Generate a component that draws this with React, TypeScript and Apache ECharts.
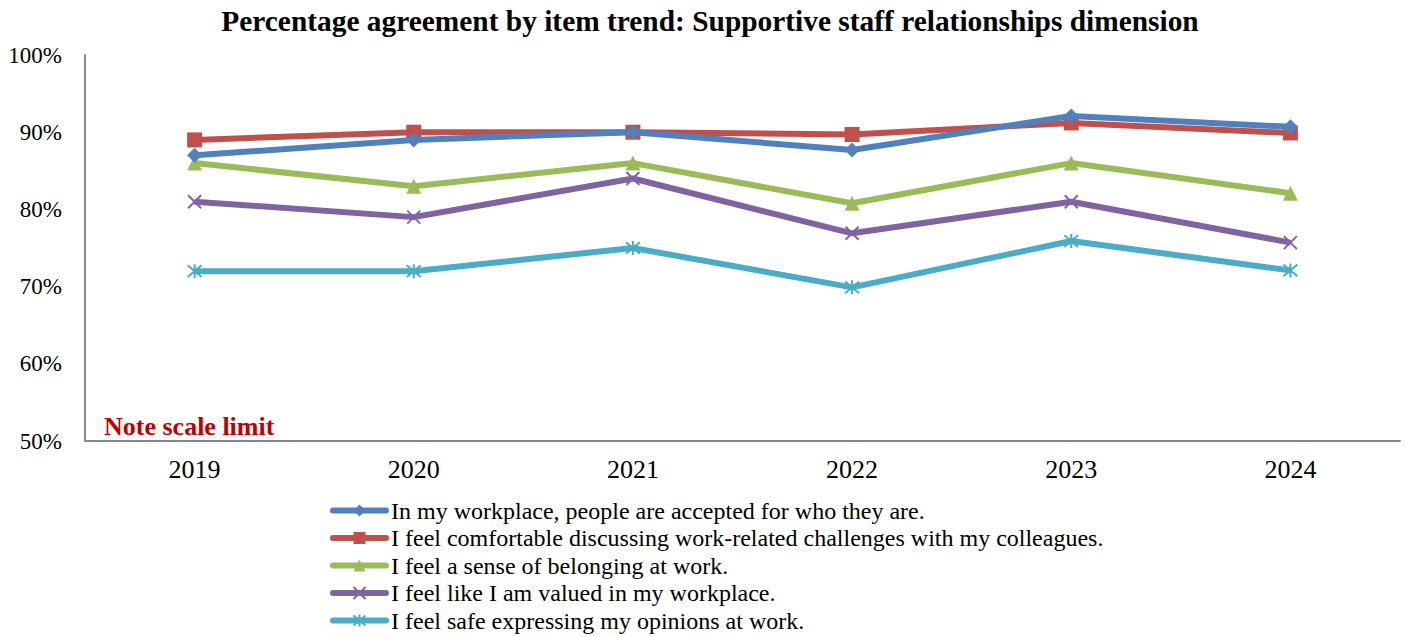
import React, { useEffect, useRef } from "react";
import * as echarts from "echarts";

const years = ["2019", "2020", "2021", "2022", "2023", "2024"];
const seriesNames = [
  "In my workplace, people are accepted for who they are.",
  "I feel comfortable discussing work-related challenges with my colleagues.",
  "I feel a sense of belonging at work.",
  "I feel like I am valued in my workplace.",
  "I feel safe expressing my opinions at work.",
];
const accepted = [87.0, 89.0, 90.0, 87.7, 92.1, 90.7];
const comfortable = [89.0, 90.0, 90.0, 89.7, 91.2, 89.9];
const belonging = [86.0, 83.0, 86.0, 80.8, 86.0, 82.1];
const valued = [81.0, 79.0, 84.0, 76.9, 81.0, 75.7];
const safe = [72.0, 72.0, 75.0, 69.9, 75.9, 72.1];
const yTicks = { min: 50, max: 100, interval: 10 };

const colors = ["#4F81BD", "#C0504D", "#9BBB59", "#8064A2", "#4BACC6"];
const FONT = "'Liberation Serif', 'Times New Roman', serif";

const X_SYMBOL = "path://M0,0 L10,10 M10,0 L0,10";
const STAR_SYMBOL = "path://M0,0 L10,10 M10,0 L0,10 M5,-1 L5,11";

export default function App() {
  const ref = useRef<HTMLDivElement>(null);
  useEffect(() => {
    if (!ref.current) return;
    const chart = echarts.init(ref.current, null, { renderer: "svg" });
    const data = [accepted, comfortable, belonging, valued, safe];
    const symbols = ["diamond", "rect", "triangle", X_SYMBOL, STAR_SYMBOL];
    const sizes = [15, 15, 15, 13, 14];
    chart.setOption({
      animation: false,
      color: colors,
      title: {
        text: "Percentage agreement by item trend: Supportive staff relationships dimension",
        left: 710,
        textAlign: "center",
        top: 6,
        padding: 0,
        textStyle: { fontFamily: FONT, fontSize: 29.4, fontWeight: "bold", color: "#000" },
      },
      grid: { left: 85, right: 5, top: 55, bottom: 196, containLabel: false },
      xAxis: {
        type: "category",
        data: years,
        boundaryGap: true,
        axisLine: { lineStyle: { color: "#888888", width: 2 } },
        axisTick: { show: false },
        axisLabel: { fontFamily: FONT, fontSize: 26, color: "#000", margin: 15 },
        splitLine: { show: false },
      },
      yAxis: {
        type: "value",
        min: yTicks.min,
        max: yTicks.max,
        interval: yTicks.interval,
        axisLine: { show: true, lineStyle: { color: "#888888", width: 2 } },
        axisTick: { show: false },
        splitLine: { show: false },
        axisLabel: { fontFamily: FONT, fontSize: 23, color: "#000", margin: 23, formatter: "{value}%" },
      },
      legend: {
        orient: "vertical",
        left: 330,
        top: 498,
        padding: 0,
        itemWidth: 53,
        itemHeight: 15,
        itemGap: 2.5,
        data: seriesNames,
        lineStyle: { width: 6, cap: "round" },
        textStyle: { fontFamily: FONT, fontSize: 24, color: "#000", lineHeight: 25 },
      },
      graphic: [
        {
          type: "text",
          left: 104,
          top: 413,
          style: { text: "Note scale limit", fontFamily: FONT, fontSize: 26, fontWeight: "bold", fill: "#C00000" },
        },
      ],
      series: seriesNames.map((name, i) => ({
        name,
        type: "line",
        data: data[i],
        symbol: symbols[i],
        symbolSize: sizes[i],
        showAllSymbol: true,
        lineStyle: { width: 6, color: colors[i] },
        itemStyle: i >= 3
          ? { color: colors[i], borderColor: colors[i], borderWidth: 2 }
          : { color: colors[i] },
        emphasis: { disabled: true },
        z: 10 - i,
      })),
    });
    return () => chart.dispose();
  }, []);
  return (
    <div
      ref={ref}
      style={{ position: "fixed", left: 0, top: 0, width: 1405, height: 637, background: "#fff" }}
    />
  );
}
